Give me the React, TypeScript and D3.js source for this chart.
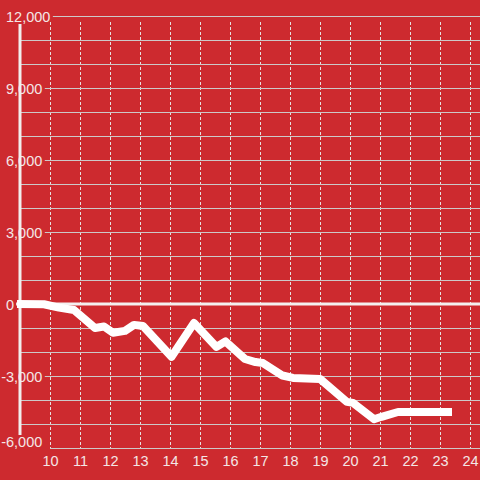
import React, { useEffect, useRef } from "react";
import * as d3 from "d3";

const hours = [8.9, 9.8, 10.3, 10.8, 11.5, 11.8, 12.1, 12.5, 12.8, 13.1, 14.05, 14.8, 15.55, 15.85, 16.5, 16.85, 17.1, 17.75, 18.1, 19.0, 19.9, 20.1, 20.8, 21.05, 21.6, 23.4];
const values = [0, -10, -150, -250, -1000, -940, -1200, -1120, -870, -920, -2200, -790, -1790, -1560, -2290, -2420, -2460, -2980, -3080, -3120, -4080, -4120, -4800, -4700, -4500, -4500];
const xTicks = [10, 11, 12, 13, 14, 15, 16, 17, 18, 19, 20, 21, 22, 23, 24];
const yGrid = d3.range(-6000, 12001, 1000);
const yLabels = [12000, 9000, 6000, 3000, 0, -3000, -6000];

const W = 480;
const H = 480;
const BG = "#cd2a2f";
const TXT = "#f4e6e6";
const FONT = "'Liberation Sans', Arial, sans-serif";

export default function App() {
  const ref = useRef<SVGSVGElement>(null);

  useEffect(() => {
    const svg = d3.select(ref.current);
    svg.selectAll("*").remove();
    const x = d3.scaleLinear().domain([9, 24]).range([20, 470]);
    const y = d3.scaleLinear().domain([-6000, 12000]).range([448, 16]);
    const fmt = d3.format(",");

    svg.append("rect").attr("width", W).attr("height", H).attr("fill", BG);

    // vertical dashed grid
    svg
      .append("g")
      .selectAll("line")
      .data(xTicks)
      .join("line")
      .attr("x1", (d) => x(d) + 0.5)
      .attr("x2", (d) => x(d) + 0.5)
      .attr("y1", y(12000) + 6)
      .attr("y2", y(-6000))
      .attr("stroke", "#e6e0e0")
      .attr("stroke-width", 1)
      .attr("stroke-dasharray", "3,2");

    // y labels (measure first)
    const lblG = svg.append("g");
    const ends: Record<number, number> = {};
    yLabels.forEach((v) => {
      const neg = v < 0;
      const t = lblG
        .append("text")
        .attr("x", 6)
        .attr("y", y(v) + (v === -6000 ? -6 : 1))
        .attr("dy", "0.35em")
        .attr("font-family", FONT)
        .attr("font-size", 14.5)
        .attr("fill", TXT)
        .text(fmt(v).replace("−", "-"));
      if (neg) {
        const mw = 14.5 * 0.333;
        t.attr("x", 6 - mw);
      }
      const node = t.node() as SVGTextElement;
      const bb = node.getBBox();
      ends[v] = bb.x + bb.width;
    });

    // horizontal grid
    const gridG = svg.append("g");
    yGrid.forEach((v) => {
      if (v === 0) return;
      let x1 = 20;
      if (v === -6000) x1 = x(10);
      else if (ends[v] !== undefined) x1 = ends[v] + 2.5;
      gridG
        .append("line")
        .attr("x1", x1)
        .attr("x2", W)
        .attr("y1", Math.round(y(v)) + 0.5)
        .attr("y2", Math.round(y(v)) + 0.5)
        .attr("stroke", "#cdc8c8")
        .attr("stroke-width", 1);
    });

    // y axis bar
    svg
      .append("line")
      .attr("x1", x(9))
      .attr("x2", x(9))
      .attr("y1", y(12000) + 8)
      .attr("y2", y(-6000) - 13)
      .attr("stroke", "#f2eeee")
      .attr("stroke-width", 3);

    // zero line
    svg
      .append("line")
      .attr("x1", ends[0] + 2)
      .attr("x2", W)
      .attr("y1", y(0))
      .attr("y2", y(0))
      .attr("stroke", "#f4f0f0")
      .attr("stroke-width", 3);

    // x labels
    svg
      .append("g")
      .selectAll("text")
      .data(xTicks)
      .join("text")
      .attr("x", (d) => x(d) + 0.5)
      .attr("y", 461)
      .attr("dy", "0.35em")
      .attr("text-anchor", "middle")
      .attr("font-family", FONT)
      .attr("font-size", 14.5)
      .attr("fill", TXT)
      .text((d) => String(d));

    // data line
    const pts: [number, number][] = hours.map((h, i) => [h, values[i]]);
    const line = d3
      .line<[number, number]>()
      .x((d) => x(d[0]))
      .y((d) => y(d[1]));
    svg
      .append("path")
      .attr("d", line(pts))
      .attr("fill", "none")
      .attr("stroke", "#ffffff")
      .attr("stroke-width", 8)
      .attr("stroke-linejoin", "round")
      .attr("stroke-linecap", "butt");
  }, []);

  return (
    <svg
      ref={ref}
      width={W}
      height={H}
      style={{ position: "absolute", left: 0, top: 0, display: "block" }}
    />
  );
}
